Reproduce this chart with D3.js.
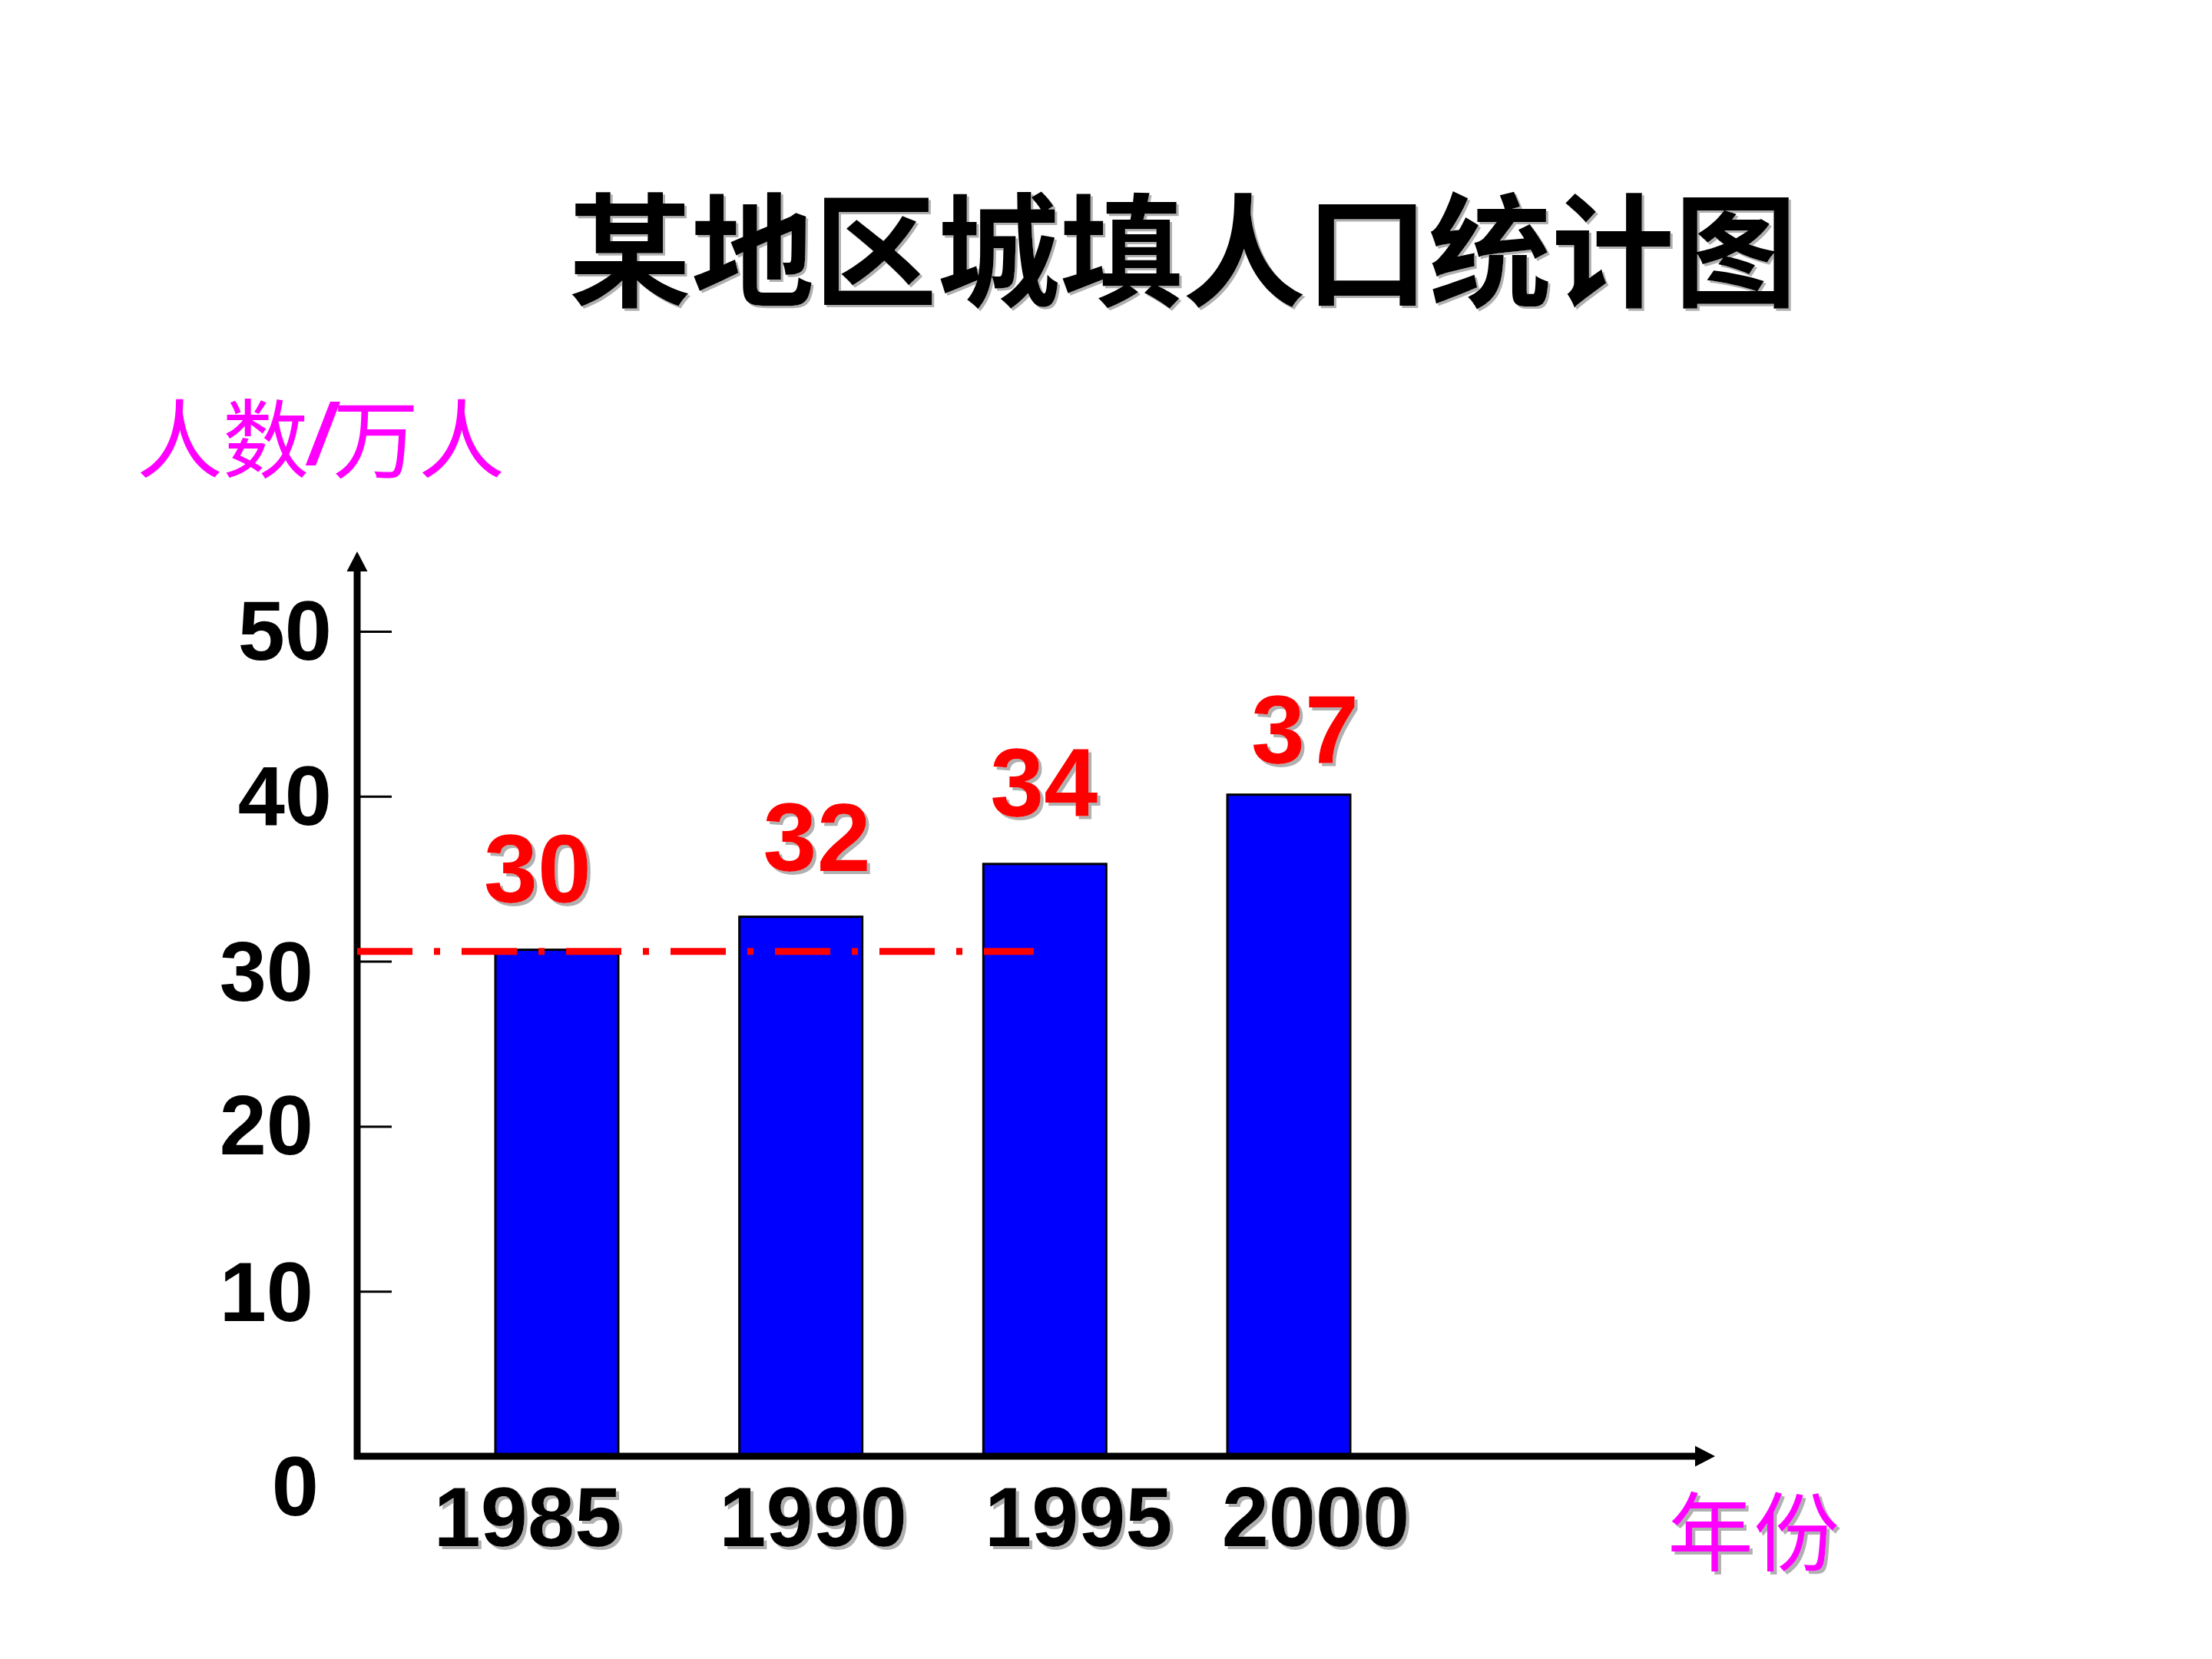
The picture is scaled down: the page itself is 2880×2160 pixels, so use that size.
<!DOCTYPE html>
<html>
<head>
<meta charset="utf-8">
<script src="https://cdn.jsdelivr.net/npm/d3@7"></script>
<style>
  html, body { margin: 0; padding: 0; background: #fff; }
  svg { display: block; }
</style>
</head>
<body>
<script>
// Chart values
const years = ['1985', '1990', '1995', '2000'];
// bar heights as drawn against the y axis (the slide's bars are not to its own labels)
const barValues = [30.7, 32.7, 35.9, 40.1];
// the red numbers written above the bars
const valueLabels = ['30', '32', '34', '37'];
const yTicks = [0, 10, 20, 30, 40, 50];
// the dash-dot reference line
const refValue = 30.6;

const title = '某地区城填人口统计图';
const yTitleParts = ['人数', '/', '万人'];
const xTitle = '年份';

const width = 2880;
const height = 2160;

const numFont = '"Liberation Sans", Arial, sans-serif';
const cjkFont = '"Noto Sans CJK SC", sans-serif';

const svg = d3.select('body')
  .append('svg')
  .attr('width', width)
  .attr('height', height)
  .attr('viewBox', [0, 0, width, height]);

svg.append('rect')
  .attr('width', width)
  .attr('height', height)
  .attr('fill', '#fff');

// grey drop shadow used by most of the slide's text
const defs = svg.append('defs');
function shadow(id, d) {
  defs.append('filter')
    .attr('id', id)
    .attr('x', '-10%').attr('y', '-10%')
    .attr('width', '130%').attr('height', '130%')
    .append('feDropShadow')
    .attr('dx', d).attr('dy', d)
    .attr('stdDeviation', 0.6)
    .attr('flood-color', '#a8a8a8')
    .attr('flood-opacity', 0.9);
}
shadow('shadow', 4);
shadow('shadowSmall', 3);

// axes origin and extents
const x0 = 465;
const y0 = 1896;

const y = d3.scaleLinear()
  .domain([0, 50])
  .range([y0, 822]);

const x = d3.scaleBand()
  .domain(years)
  .range([x0, 1938])
  .paddingInner(0.4964)
  .paddingOuter(0.5666);

// title
svg.append('text')
  .attr('x', 1540)
  .attr('y', 317)
  .attr('text-anchor', 'middle')
  .attr('dominant-baseline', 'central')
  .attr('font-family', cjkFont)
  .attr('font-weight', 700)
  .attr('font-size', 160)
  .attr('fill', '#000')
  .attr('filter', 'url(#shadowSmall)')
  .text(title);

// y axis title, the slash is a bold latin one on the slide
svg.append('text')
  .attr('x', 178)
  .attr('y', 565)
  .attr('dominant-baseline', 'central')
  .attr('font-family', cjkFont)
  .attr('font-size', 112)
  .attr('fill', '#ff00ff')
  .selectAll('tspan')
  .data(yTitleParts)
  .join('tspan')
  .attr('font-family', d => d === '/' ? numFont : null)
  .attr('font-weight', d => d === '/' ? 700 : null)
  .attr('font-style', d => d === '/' ? 'italic' : null)
  .text(d => d);

// x axis title
svg.append('text')
  .attr('x', 2283)
  .attr('y', 1988)
  .attr('text-anchor', 'middle')
  .attr('dominant-baseline', 'central')
  .attr('font-family', cjkFont)
  .attr('font-size', 112)
  .attr('fill', '#ff00ff')
  .attr('filter', 'url(#shadow)')
  .text(xTitle);

// bars
svg.append('g')
  .selectAll('rect')
  .data(years)
  .join('rect')
  .attr('x', d => x(d))
  .attr('y', (d, i) => y(barValues[i]))
  .attr('width', x.bandwidth())
  .attr('height', (d, i) => y(0) - y(barValues[i]))
  .attr('fill', '#0000ff')
  .attr('stroke', '#000')
  .attr('stroke-width', 3);

// y axis ticks and labels, ticks point into the plot
const yAxis = svg.append('g')
  .attr('transform', `translate(${x0},0)`)
  .call(d3.axisLeft(y)
    .tickValues(yTicks)
    .tickSizeInner(-45)
    .tickSizeOuter(0)
    .tickPadding(40));

yAxis.select('.domain').remove();
yAxis.selectAll('.tick line')
  .attr('stroke', '#000')
  .attr('stroke-width', 3)
  .attr('display', d => d === 0 ? 'none' : null);

// the slide's tick labels sit a little irregularly
const tickLabelRight = { 0: 415, 10: 408, 20: 408, 30: 408, 40: 432, 50: 432 };
const tickLabelDy = { 0: 38, 10: 0, 20: -2, 30: 12, 40: -2, 50: -2 };
yAxis.selectAll('.tick text')
  .attr('x', d => tickLabelRight[d] - x0)
  .attr('dy', d => tickLabelDy[d])
  .attr('dominant-baseline', 'central')
  .attr('font-family', numFont)
  .attr('font-weight', 700)
  .attr('font-size', 110)
  .attr('fill', '#000');

// axis lines with arrow heads
svg.append('line')
  .attr('x1', x0).attr('y1', y0 + 4)
  .attr('x2', x0).attr('y2', 740)
  .attr('stroke', '#000')
  .attr('stroke-width', 9);
svg.append('path')
  .attr('d', `M${x0},718 L${x0 - 13.5},744 L${x0 + 13.5},744 Z`)
  .attr('fill', '#000');

svg.append('line')
  .attr('x1', x0 - 4).attr('y1', y0)
  .attr('x2', 2210).attr('y2', y0)
  .attr('stroke', '#000')
  .attr('stroke-width', 9);
svg.append('path')
  .attr('d', `M2233,${y0} L2207,${y0 - 13.5} L2207,${y0 + 13.5} Z`)
  .attr('fill', '#000');

// red dash-dot reference line
svg.append('line')
  .attr('x1', x0).attr('y1', y(refValue))
  .attr('x2', 1346).attr('y2', y(refValue))
  .attr('stroke', '#ff0000')
  .attr('stroke-width', 9)
  .attr('stroke-dasharray', '72 28 8 28');

// x labels (hand placed on the slide, so nudged off the bar centres)
const xLabelNudge = [-38, 16, 44, 35];
svg.append('g')
  .selectAll('text')
  .data(years)
  .join('text')
  .attr('x', (d, i) => x(d) + x.bandwidth() / 2 + xLabelNudge[i])
  .attr('y', 2013)
  .attr('text-anchor', 'middle')
  .attr('font-family', numFont)
  .attr('font-weight', 700)
  .attr('font-size', 110)
  .attr('fill', '#000')
  .attr('filter', 'url(#shadow)')
  .text(d => d);

// red value labels above the bars
const valueNudgeX = [-25, 21, -1, 21];
const valueGap = [62, 60, 62, 41];
svg.append('g')
  .selectAll('text')
  .data(valueLabels)
  .join('text')
  .attr('x', (d, i) => x(years[i]) + x.bandwidth() / 2 + valueNudgeX[i])
  .attr('y', (d, i) => y(barValues[i]) - valueGap[i])
  .attr('text-anchor', 'middle')
  .attr('font-family', numFont)
  .attr('font-weight', 700)
  .attr('font-size', 126)
  .attr('fill', '#ff0000')
  .attr('filter', 'url(#shadow)')
  .text(d => d);
</script>
</body>
</html>
